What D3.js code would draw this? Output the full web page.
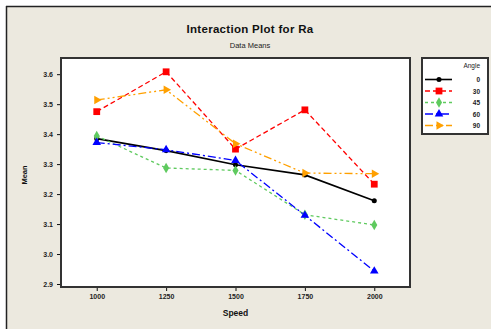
<!DOCTYPE html>
<html>
<head>
<meta charset="utf-8">
<script src="https://cdn.jsdelivr.net/npm/d3@7"></script>
<style>
  body { margin: 0; background: #fff; }
  svg { display: block; font-family: "Liberation Sans", Arial, sans-serif; }
</style>
</head>
<body>
<svg id="chart"></svg>
<script>
// data
const speeds = [1000, 1250, 1500, 1750, 2000];
const angles = ["0", "30", "45", "60", "90"];
const angle0 = [3.385, 3.345, 3.298, 3.264, 3.178];
const angle30 = [3.475, 3.608, 3.350, 3.481, 3.233];
const angle45 = [3.394, 3.287, 3.279, 3.131, 3.097];
const angle60 = [3.372, 3.348, 3.312, 3.129, 2.943];
const angle90 = [3.514, 3.548, 3.368, 3.270, 3.268];
const yTicks = [2.9, 3.0, 3.1, 3.2, 3.3, 3.4, 3.5, 3.6];

const series = [
  { name: angles[0], values: angle0, color: "#000000", dash: null, shape: d3.symbolCircle, size: 20, rot: 0 },
  { name: angles[1], values: angle30, color: "#ff0000", dash: "5,3", shape: d3.symbolSquare, size: 46, rot: 0 },
  { name: angles[2], values: angle45, color: "#5fca5f", dash: "3,3", shape: d3.symbolDiamond, size: 32, rot: 0 },
  { name: angles[3], values: angle60, color: "#0000ff", dash: "8,3,2,3", shape: d3.symbolTriangle, size: 32, rot: 0 },
  { name: angles[4], values: angle90, color: "#ffa000", dash: "8,3,2,3,2,3", shape: d3.symbolTriangle, size: 32, rot: 90 }
];

const W = 491, H = 329;
const svg = d3.select("#chart").attr("width", W).attr("height", H);

// outer panel
svg.append("rect").attr("x", 0).attr("y", 0).attr("width", W).attr("height", H).attr("fill", "#fff");
svg.append("rect").attr("x", 6).attr("y", 6).attr("width", W - 6).attr("height", H - 6).attr("fill", "#ece9df");
svg.append("line").attr("x1", 6).attr("x2", W).attr("y1", 6.5).attr("y2", 6.5).attr("stroke", "#222").attr("stroke-width", 1.5);
svg.append("line").attr("x1", 6.5).attr("x2", 6.5).attr("y1", 6).attr("y2", H).attr("stroke", "#222").attr("stroke-width", 1.5);

const plot = { left: 61, top: 58, right: 410, bottom: 287 };

const x = d3.scalePoint().domain(speeds).range([plot.left, plot.right]).padding(0.515);
const y = d3.scaleLinear().domain([2.89, 3.654]).range([plot.bottom, plot.top]);

svg.append("rect")
  .attr("x", plot.left).attr("y", plot.top)
  .attr("width", plot.right - plot.left).attr("height", plot.bottom - plot.top)
  .attr("fill", "#fff").attr("stroke", "#333").attr("stroke-width", 2);

// titles
svg.append("text").attr("x", 250).attr("y", 33).attr("text-anchor", "middle")
  .attr("font-size", 11.5).attr("font-weight", "bold").attr("fill", "#111")
  .attr("letter-spacing", 0.3)
  .text("Interaction Plot for Ra");
svg.append("text").attr("x", 250).attr("y", 48).attr("text-anchor", "middle")
  .attr("font-size", 7.5).attr("fill", "#222")
  .text("Data Means");

// axes
const xAxis = svg.append("g").attr("transform", `translate(0,${plot.bottom + 1})`)
  .call(d3.axisBottom(x).tickSize(3).tickFormat(d3.format("d")));
const yAxis = svg.append("g").attr("transform", `translate(${plot.left - 1},0)`)
  .call(d3.axisLeft(y).tickValues(yTicks).tickSize(3).tickFormat(d3.format(".1f")));
[xAxis, yAxis].forEach(g => {
  g.select(".domain").remove();
  g.selectAll(".tick line").attr("stroke", "#111");
  g.selectAll(".tick text").attr("font-size", 7).attr("font-weight", "bold").attr("fill", "#222")
    .attr("font-family", "Liberation Sans, Arial, sans-serif");
});
xAxis.selectAll(".tick text").attr("dy", "0.9em").attr("y", 5);
yAxis.selectAll(".tick text").attr("x", -7);

svg.append("text").attr("x", x(1500)).attr("y", 316).attr("text-anchor", "middle")
  .attr("font-size", 8.5).attr("font-weight", "bold").attr("fill", "#111").text("Speed");
svg.append("text").attr("transform", "translate(27,175) rotate(-90)").attr("text-anchor", "middle")
  .attr("font-size", 7.5).attr("font-weight", "bold").attr("fill", "#111").text("Mean");

// lines and markers
const line = d3.line().x((d, i) => x(speeds[i])).y(d => y(d));
series.forEach(s => {
  svg.append("path").datum(s.values)
    .attr("d", line).attr("fill", "none")
    .attr("stroke", s.color).attr("stroke-width", s.dash ? 1.3 : 1.6)
    .attr("stroke-dasharray", s.dash);
});
series.forEach(s => {
  svg.append("g").selectAll("path").data(s.values).join("path")
    .attr("d", d3.symbol().type(s.shape).size(s.size))
    .attr("transform", (d, i) => `translate(${x(speeds[i])},${y(d)}) rotate(${s.rot})`)
    .attr("fill", s.color);
});

// legend
const lg = svg.append("g");
lg.append("rect").attr("x", 422).attr("y", 58).attr("width", 66).attr("height", 76)
  .attr("fill", "#fff").attr("stroke", "#333").attr("stroke-width", 2);
lg.append("text").attr("x", 480).attr("y", 68).attr("text-anchor", "end")
  .attr("font-size", 6.5).attr("fill", "#222").text("Angle");
const rowY = d3.scaleLinear().domain([0, 4]).range([79.5, 125.5]);
series.forEach((s, i) => {
  const ry = rowY(i);
  lg.append("line").attr("x1", 425).attr("x2", 452).attr("y1", ry).attr("y2", ry)
    .attr("stroke", s.color).attr("stroke-width", s.dash ? 1.3 : 1.6)
    .attr("stroke-dasharray", s.dash);
  lg.append("path").attr("d", d3.symbol().type(s.shape).size(s.size))
    .attr("transform", `translate(439,${ry}) rotate(${s.rot})`).attr("fill", s.color);
  lg.append("text").attr("x", 480).attr("y", ry + 2.5).attr("text-anchor", "end")
    .attr("font-size", 6.5).attr("font-weight", "bold").attr("fill", "#222").text(s.name);
});
</script>
</body>
</html>
